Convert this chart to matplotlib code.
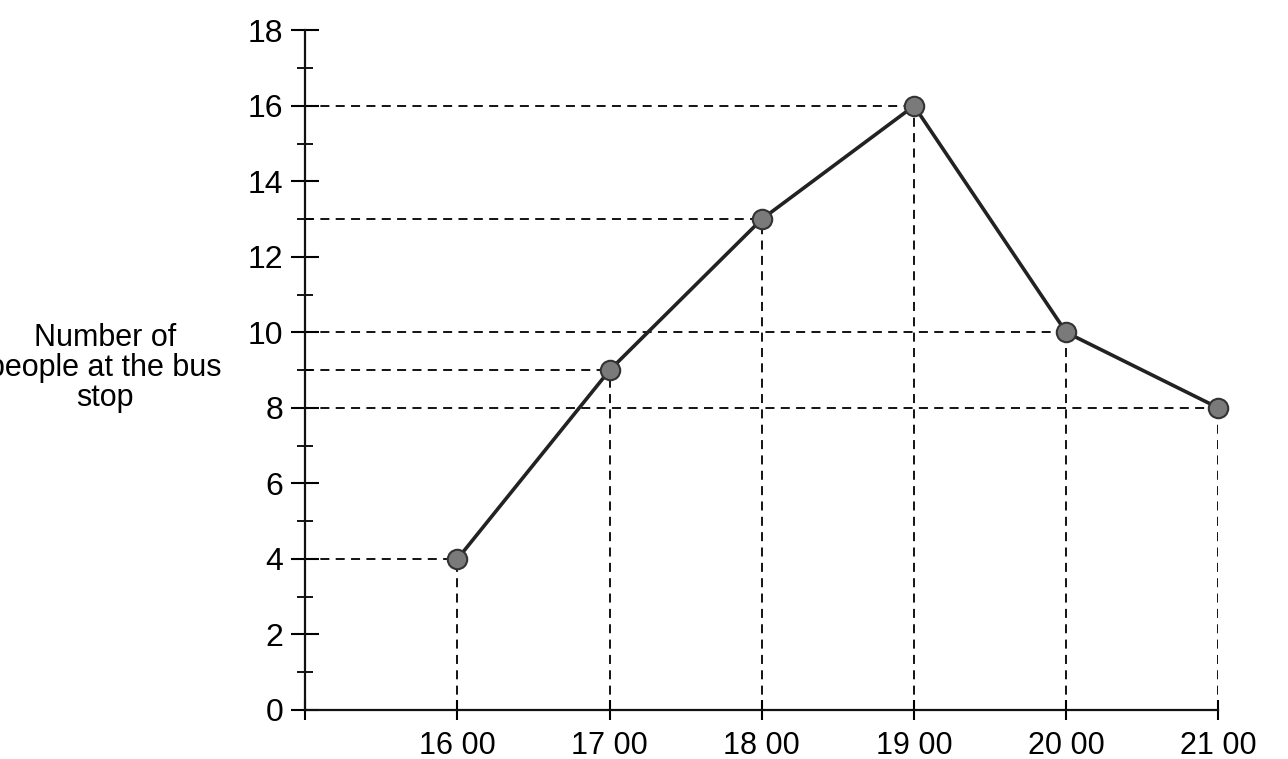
import numpy as np
import matplotlib.pyplot as plt
from matplotlib.ticker import MultipleLocator

times = [16, 17, 18, 19, 20, 21]
time_labels = ['16 00', '17 00', '18 00', '19 00', '20 00', '21 00']
people = [4, 9, 13, 16, 10, 8]

plt.rcParams['font.family'] = ['Liberation Sans', 'DejaVu Sans']

fig = plt.figure(figsize=(12.88, 7.59), dpi=100)
ax = fig.add_axes([0.237, 0.0646, 0.709, 0.8954])

# guide lines from each point back to the axes
ax.hlines(people, 15, times, colors='black', linestyles=(0, (5, 3.5)), linewidth=1.3)
ax.vlines(times, 0, people, colors='black', linestyles=(0, (5, 3.5)), linewidth=1.3)

ax.plot(times, people, color='#222222', linewidth=2.6, marker='o', markersize=14,
        markerfacecolor='#7a7a7a', markeredgecolor='#333333', markeredgewidth=1.5,
        clip_on=False, zorder=5)

ax.set_xlim(15, 21)
ax.set_ylim(0, 18)
ax.set_xticks([15] + times)
ax.set_xticklabels([''] + time_labels)
ax.yaxis.set_major_locator(MultipleLocator(2))
ax.yaxis.set_minor_locator(MultipleLocator(1))

for s in ['top', 'right']:
    ax.spines[s].set_visible(False)
for s in ['left', 'bottom']:
    ax.spines[s].set_linewidth(1.6)
    ax.spines[s].set_color('#111111')

ax.tick_params(axis='y', which='major', direction='inout', length=20, width=1.5,
               labelsize=23, pad=6)
ax.tick_params(axis='y', which='minor', direction='inout', length=12, width=1.3)
ax.tick_params(axis='x', which='major', direction='inout', length=14, width=1.5,
               labelsize=22, pad=8)

fig.text(105 / 1288, 1 - 368 / 759, 'Number of\npeople at the bus\nstop',
         ha='center', va='center', fontsize=22, linespacing=1.0)

fig.savefig('out.png', dpi=100)
